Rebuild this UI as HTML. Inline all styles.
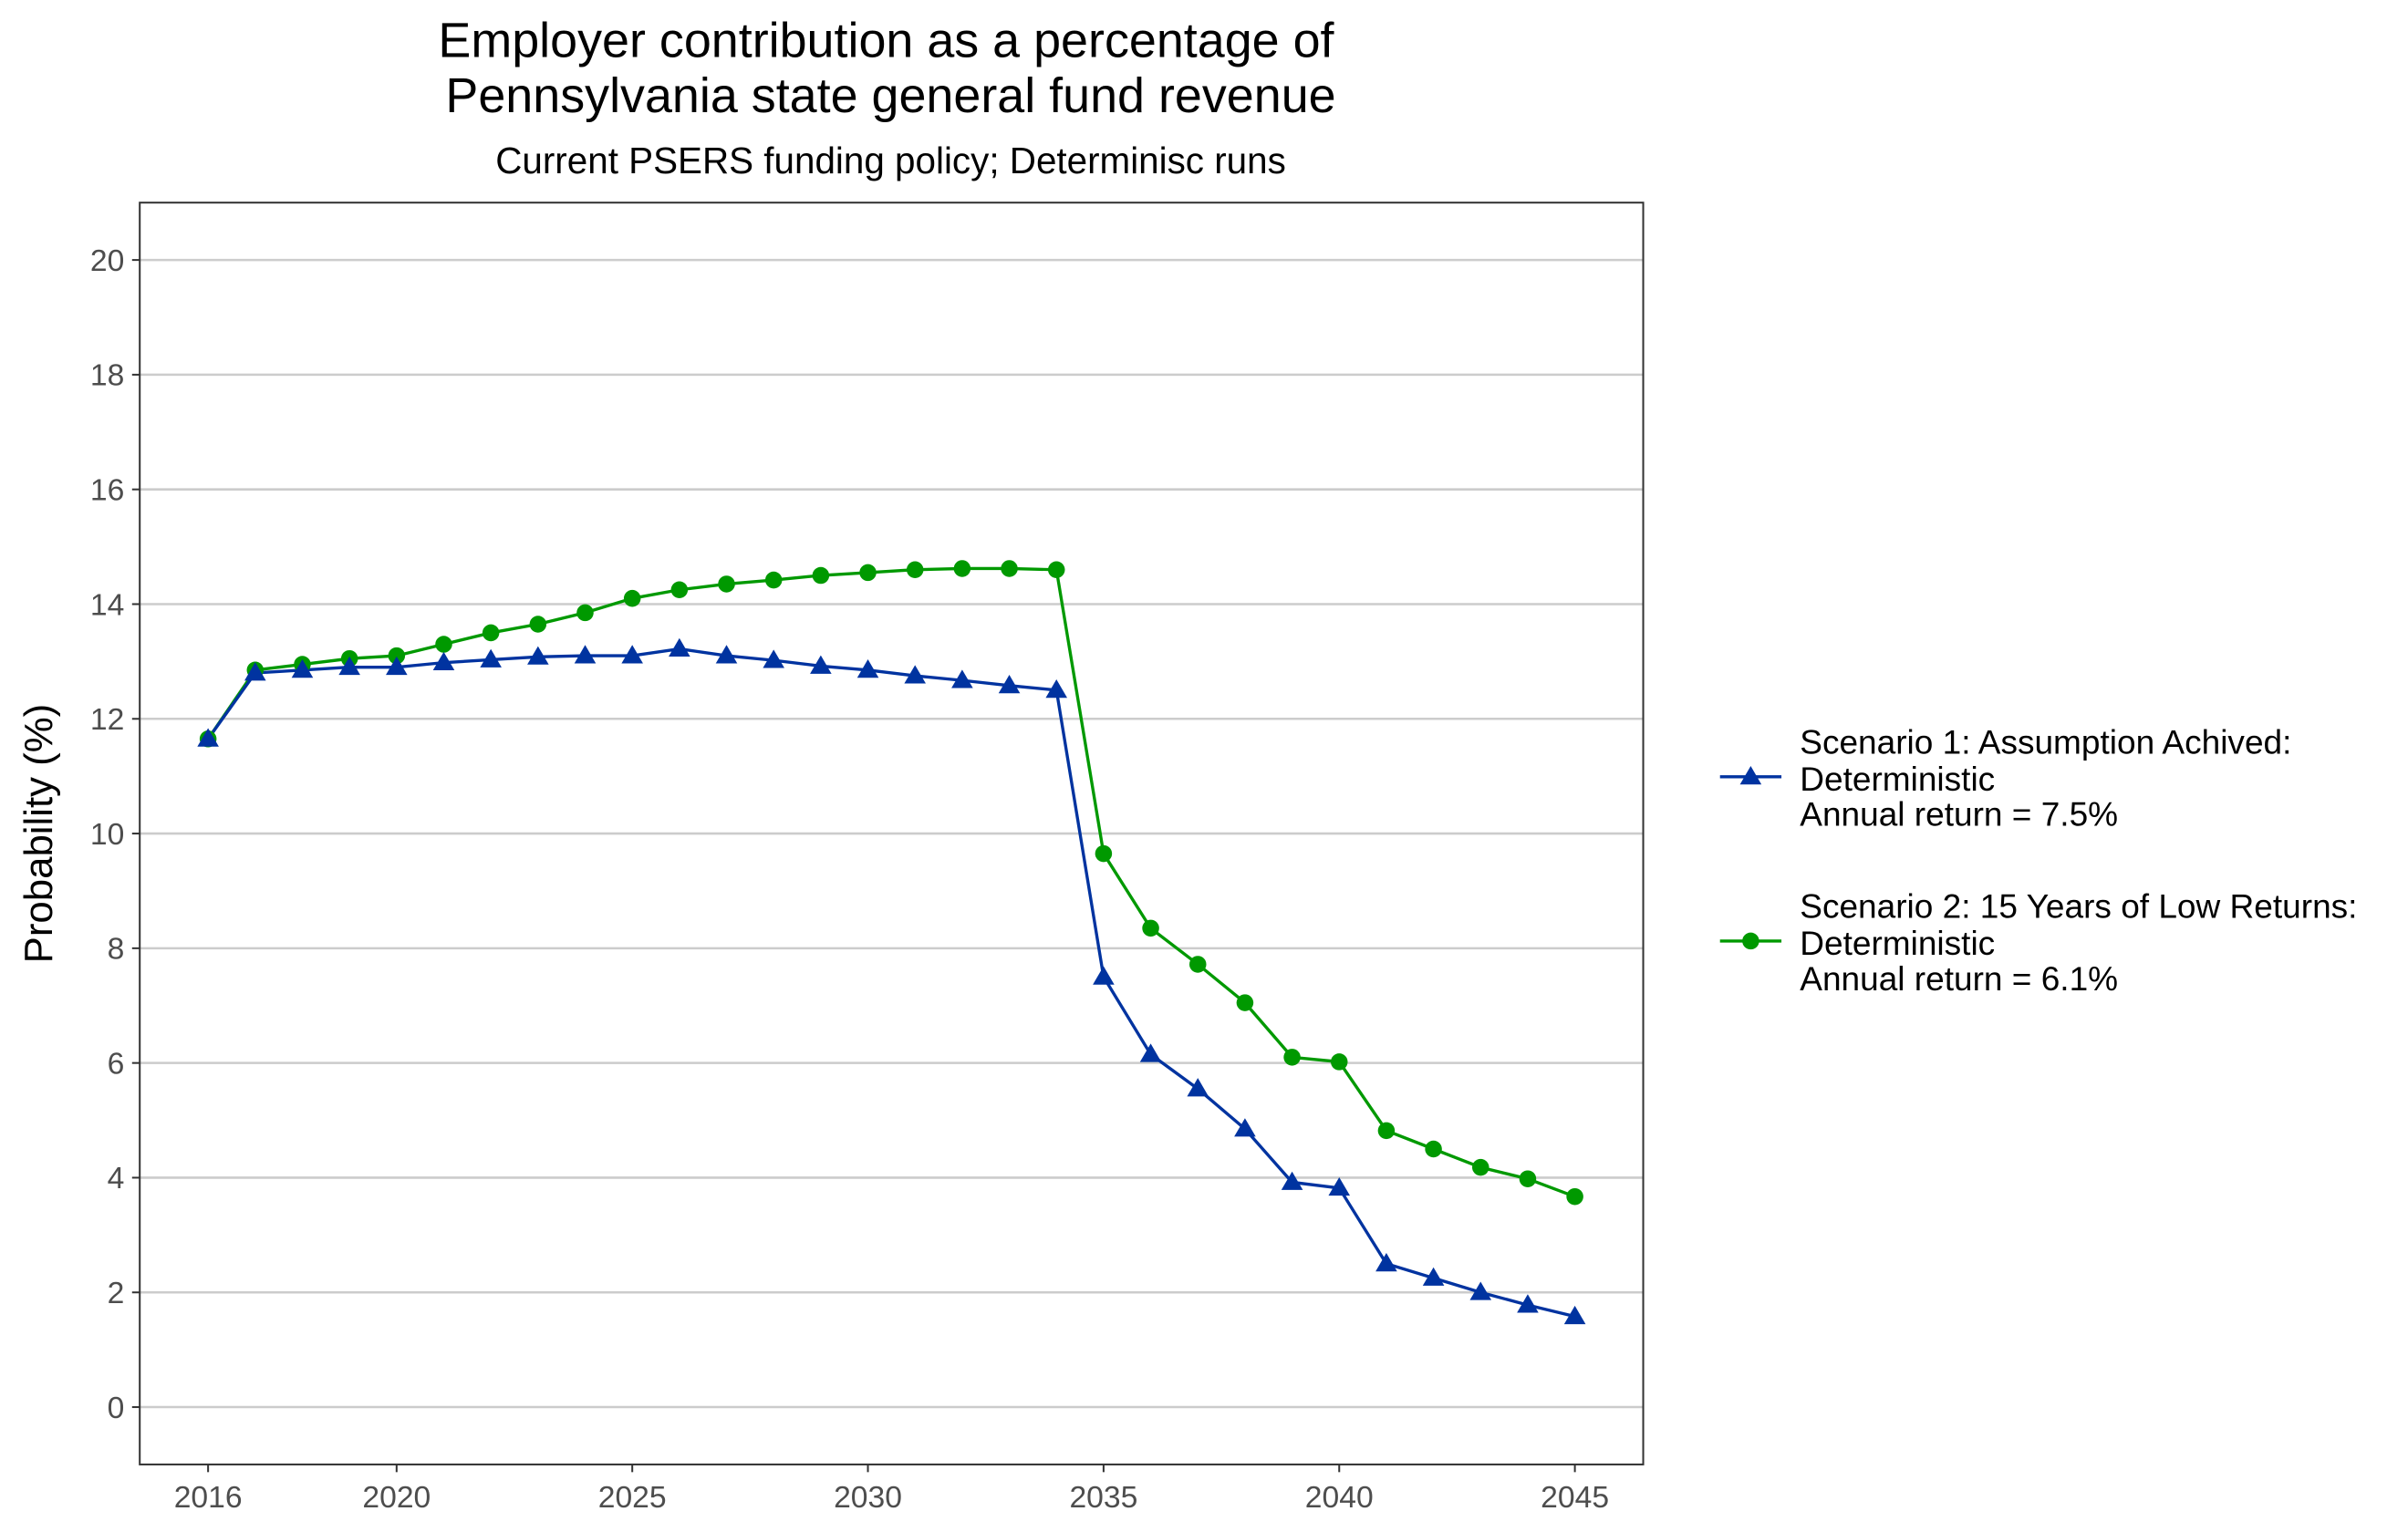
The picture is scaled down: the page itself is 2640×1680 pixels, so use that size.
<!DOCTYPE html>
<html><head><meta charset="utf-8"><style>
html,body{margin:0;padding:0;background:#fff;}
svg{display:block;font-family:"Liberation Sans",Arial,sans-serif;}
</style></head><body>
<svg id="chart" width="2640" height="1680" viewBox="0 0 1568 998" preserveAspectRatio="none" xmlns="http://www.w3.org/2000/svg">
<rect width="1568" height="998" fill="#fff"/>
<text x="577" y="37" font-size="32" text-anchor="middle">Employer contribution as a percentage of</text>
<text x="580" y="73" font-size="32" text-anchor="middle">Pennsylvania state general fund revenue</text>
<text x="580" y="113" font-size="24" text-anchor="middle">Current PSERS funding policy; Determinisc runs</text>
<g id="grid"></g>
<g id="axes"></g>
<g id="series"></g>
<rect x="91" y="132" width="979" height="822" fill="none" stroke="#333" stroke-width="1.2"/>
<text transform="translate(34,543) rotate(-90)" font-size="26" text-anchor="middle">Probability (%)</text>
<g>
<g>
<line x1="1120" y1="506" x2="1160" y2="506" stroke="#0033a0" stroke-width="2"/>
<path d="M1140,499 L1147,511 L1133,511 Z" fill="#0033a0"/>
<text x="1172" y="491" font-size="22">Scenario 1: Assumption Achived:</text>
<text x="1172" y="515" font-size="22">Deterministic</text>
<text x="1172" y="538" font-size="22">Annual return = 7.5%</text>
</g>
<g>
<line x1="1120" y1="613" x2="1160" y2="613" stroke="#009900" stroke-width="2"/>
<circle cx="1140" cy="613" r="5.5" fill="#009900"/>
<text x="1172" y="598" font-size="22">Scenario 2: 15 Years of Low Returns:</text>
<text x="1172" y="622" font-size="22">Deterministic</text>
<text x="1172" y="645" font-size="22">Annual return = 6.1%</text>
</g>
</g>
</svg>
<script>
const years = [2016,2017,2018,2019,2020,2021,2022,2023,2024,2025,2026,2027,2028,2029,2030,2031,2032,2033,2034,2035,2036,2037,2038,2039,2040,2041,2042,2043,2044,2045];
const scenario1 = [11.65,12.8,12.85,12.9,12.9,12.98,13.03,13.08,13.1,13.1,13.22,13.1,13.02,12.92,12.85,12.75,12.67,12.58,12.5,7.5,6.15,5.55,4.85,3.92,3.82,2.5,2.25,2.0,1.78,1.58];
const scenario2 = [11.65,12.85,12.95,13.05,13.1,13.3,13.5,13.65,13.85,14.1,14.25,14.35,14.42,14.5,14.55,14.6,14.62,14.62,14.6,9.65,8.35,7.72,7.05,6.1,6.02,4.82,4.5,4.18,3.98,3.67];
const yTicks = [0,2,4,6,8,10,12,14,16,18,20];
const xTicks = [2016,2020,2025,2030,2035,2040,2045];

const NS = "http://www.w3.org/2000/svg";
const X0=91, X1=1070, Y0=954, Y1=132;
const xMin=2014.55, xMax=2046.45, yMin=-1, yMax=21;
function sx(v){return X0+(v-xMin)/(xMax-xMin)*(X1-X0);}
function sy(v){return Y0-(v-yMin)/(yMax-yMin)*(Y0-Y1);}
function mk(tag, attrs, parent){const e=document.createElementNS(NS,tag);for(const k in attrs)e.setAttribute(k,attrs[k]);parent.appendChild(e);return e;}

const grid=document.getElementById('grid'), axes=document.getElementById('axes'), series=document.getElementById('series');
yTicks.forEach(t=>{
  const y=sy(t);
  const g=mk('line',{x1:X0,x2:X1,y1:y,y2:y,stroke:'#cccccc','stroke-width':1.5},grid);
  
  
  const tk=mk('line',{x1:X0-5,x2:X0,y1:y,y2:y,stroke:'#333','stroke-width':1.2},axes);
  
  
  const lb=mk('text',{x:X0-10,y:y+7,'font-size':20,'text-anchor':'end',fill:'#4d4d4d'},axes);
  lb.textContent=t;
  
  
});
xTicks.forEach(t=>{
  const x=sx(t);
  const tk=mk('line',{x1:x,x2:x,y1:Y0,y2:Y0+5,stroke:'#333','stroke-width':1.2},axes);
  
  
  const lb=mk('text',{x:x,y:Y0+28,'font-size':20,'text-anchor':'middle',fill:'#4d4d4d'},axes);
  lb.textContent=t;
  
  
});
function drawLine(vals,color,name){
  const pts=vals.map((v,i)=>sx(years[i])+','+sy(v)).join(' ');
  const pl=mk('polyline',{points:pts,fill:'none',stroke:color,'stroke-width':2},series);
  
  
}
drawLine(scenario2,'#009900','scenario-2');
drawLine(scenario1,'#0033a0','scenario-1');
scenario2.forEach((v,i)=>{
  const c=mk('circle',{cx:sx(years[i]),cy:sy(v),r:5.5,fill:'#009900'},series);
  
  
});
scenario1.forEach((v,i)=>{
  const x=sx(years[i]),y=sy(v);
  const p=mk('path',{d:`M${x},${y-7} L${x+7},${y+5} L${x-7},${y+5} Z`,fill:'#0033a0'},series);
  
  
});
</script>
</body></html>
